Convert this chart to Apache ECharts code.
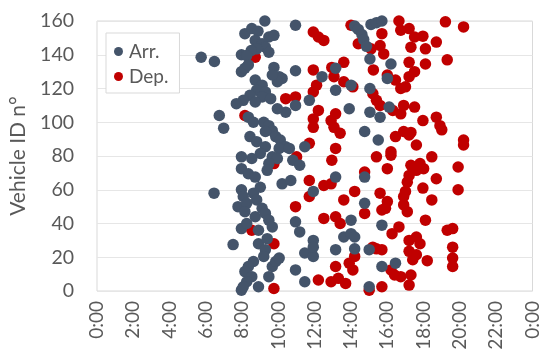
<!DOCTYPE html>
<html>
<head>
<meta charset="utf-8">
<script src="https://cdn.jsdelivr.net/npm/echarts@6/dist/echarts.min.js"></script>
<style>
html,body{margin:0;padding:0;background:#fff;}
#c{width:542px;height:361px;}
</style>
</head>
<body>
<div id="c"></div>
<script>
// Tick labels (hours)
var xTicks = [0, 2, 4, 6, 8, 10, 12, 14, 16, 18, 20, 22, 24];
var seriesNames = ['Arr.', 'Dep.'];
// [hour of day, vehicle ID]
var arrPoints = [
[9.25,160],[10.94,157.5],[8.15,152.5],[8.53,155.5],[8.87,154],[9.47,150.5],[9.75,151.5],[8.72,148.5],[9.1,146.5],[9.28,144.5],[9.47,141.5],[8.8,143.5],[8.5,142.5],[7.96,140],[8.25,139.5],[5.74,138.5],[6.47,136],
[14.2,157],[14.4,155],[14.6,152],[14.7,149],[14.85,145],[15.1,158],[15.4,159],[15.7,160],[15.04,137.5],[16.2,134.5],[16.0,126],[16.1,109],[15.04,120],[15.04,106],[15.6,103],[15.5,89.5],[14.75,94.5],[14.75,67.5],[14.75,52],[14.0,122],[13.9,108],[13.15,119],[13.15,132],[12.4,127],[10.94,130.5],[10.94,110],[10.4,106],[9.94,108],[9.75,132.5],[10.04,127],[10.2,126],[9.94,124],[9.66,128],[7.96,130],[8.15,132],[8.34,134],
[8.72,125],[9.1,122],[8.8,119],[9.28,118],[8.43,116],[9.1,115],[9.57,114],[8.06,113],[8.72,112],[7.68,111],[11.7,113],
[6.74,104],[6.98,96.5],[8.34,103],[8.62,100],[9.19,100],[9.47,98],[9.66,95],[9.28,94.5],[8.43,91.5],[8.8,88.5],[9.85,91.5],[10.1,89.5],[10.4,85.5],[10.04,84.5],[9.28,85.5],[9.0,81.5],[9.66,79.5],[9.94,78.5],[7.96,79.5],[8.53,78.5],[9.47,75.5],[9.38,71.5],[7.96,72.5],[8.34,69.5],[8.72,67.5],[9.0,61.5],[8.62,58],[8.8,54],[7.96,60],[8.06,56],[7.77,50],[8.25,52],[8.15,47],[8.72,44],[9.1,49],[9.28,46],[9.47,42],[9.66,38],[7.96,37],[8.25,40],[8.9,36],[8.9,28],[9.38,31],[9.28,24.5],[9.19,20.5],[8.62,17.5],[8.34,14.5],[8.15,11.5],[8.53,8.5],[8.25,5.5],[7.96,0.5],[8.06,2.5],[8.9,2.5],[9.47,8.5],[9.66,14.5],[9.85,17.5],[10.04,19.5],[7.5,27.5],[6.45,58],
[10.6,84.5],[10.79,77.5],[11.17,74.5],[11.45,85.5],[10.2,63.5],[10.68,65.5],[10.94,41],[11.17,35],[10.94,12.5],[11.45,5.5],[11.45,22.5],[11.92,20.5],[11.92,30],[11.92,26],[11.92,59],
[13.15,67.5],[13.15,24.5],[13.6,32],[14.0,34],[14.2,32],[14.0,42],[14.2,25],[15.0,24.5],[15.0,2.5],[15.7,14.5],[15.7,39],[16.45,16.5]
];
var depPoints = [
[16.64,160],[16.74,154.5],[17.2,155.5],[19.2,159.5],[20.2,156.5],[14.0,157.5],[15.7,152.5],[11.92,153.5],[12.2,150.5],[12.5,148.5],[17.5,150.5],[17.96,151],[18.7,147.5],[17.3,144.5],[18.1,143.5],[15.1,143.5],[15.6,145.5],[15.8,140.5],[14.4,146.5],[17.2,135.5],[18.1,134.5],[19.3,137],[13.6,135.5],[8.72,138.5],
[15.23,131],[16.0,128],[16.45,125],[16.74,120],[17.0,121],[17.2,127],[17.5,130],[11.92,131],[12.94,132.5],[13.06,127],[12.1,122],[11.92,118],[13.6,124],[14.1,121],
[10.4,114],[10.94,115],[15.2,117],[15.4,113],[15.6,110],[16.3,107],[16.74,105],[16.9,110],[17.5,109],[17.96,101],[18.7,103],[18.9,98],[19.0,95.5],[12.2,107],[11.92,102],[11.92,97],[13.15,105],[12.9,101],[13.06,97],[13.4,93.5],[16.45,91.5],[16.9,94.5],[17.2,92.5],[17.3,94],[17.6,86.5],[20.2,89.5],[20.2,86.5],[8.15,104],
[11.7,87.5],[13.15,84.5],[16.2,82.5],[15.4,79.5],[16.2,80.5],[12.94,77.5],[11.0,79.5],[9.75,75.5],[18.45,79.5],[17.3,74.5],[17.8,75.5],[17.6,71.5],[18.0,72.5],[17.2,68.5],[17.1,64.5],[18.7,66.5],[16.0,72.5],[19.9,73.5],[14.75,70.5],[11.7,65.5],[12.5,62.5],[12.9,63.5],
[17.96,61],[17.0,59],[16.9,56],[15.6,58],[14.2,59],[13.6,54],[11.7,56],[16.0,53],[15.9,49],[15.7,48],[16.9,51],[17.1,47],[18.45,54],[19.9,60],[10.94,50],[14.75,46],
[12.5,43],[13.15,44],[13.4,40],[16.64,38],[16.26,34],[18.1,42],[19.3,36],[19.6,37],[8.53,36],[9.75,28],
[17.6,32],[17.8,28],[17.2,30],[15.4,25],[15.7,24.5],[17.2,23.5],[17.6,21.5],[17.4,18.5],[18.2,18],[19.6,26],[19.6,19.5],[19.6,14.5],[14.2,20.5],[13.9,16.5],[14.1,12.5],[13.15,14.5],[12.9,5.5],[13.3,7.5],[13.7,4.5],[12.2,6.5],[16.2,12.5],[16.4,9.5],[16.74,8.5],[17.3,9.5],[17.2,3.5],[15.7,2.5],[15.0,0.5],[9.75,1.5],[15.2,26]
];

var FONT = 'Lato, "Open Sans", sans-serif';
var chart = echarts.init(document.getElementById('c'), null, {renderer: 'canvas'});
chart.setOption({
  animation: false,
  backgroundColor: '#ffffff',
  textStyle: {fontFamily: FONT},
  grid: {left: 96, right: 5, top: 21, bottom: 70, show: true, borderColor: '#D9D9D9', borderWidth: 1},
  legend: {
    data: seriesNames,
    orient: 'vertical',
    left: 106, top: 33,
    backgroundColor: '#ffffff',
    borderColor: '#D9D9D9', borderWidth: 1,
    padding: [9, 11, 7, 8],
    itemGap: 6,
    itemWidth: 9, itemHeight: 9,
    icon: 'circle',
    textStyle: {fontSize: 19, lineHeight: 19, color: '#595959', fontFamily: FONT, padding: [0, 0, 0, 1]}
  },
  xAxis: {
    type: 'value', min: 0, max: 24, interval: 2,
    axisLine: {show: false},
    axisTick: {show: false},
    splitLine: {show: false},
    axisLabel: {
      rotate: 90, fontSize: 19, color: '#595959', margin: 10, fontFamily: FONT,
      formatter: function (v) { return xTicks.indexOf(v) >= 0 ? (v % 24) + ':00' : ''; }
    }
  },
  yAxis: {
    type: 'value', min: 0, max: 160, interval: 20,
    name: 'Vehicle ID n°', nameLocation: 'middle', nameGap: 68,
    nameTextStyle: {fontSize: 21, color: '#595959', fontFamily: FONT},
    axisLine: {show: false},
    axisTick: {show: false},
    splitLine: {lineStyle: {color: '#E6E6E6', width: 1}},
    axisLabel: {fontSize: 19.5, color: '#595959', margin: 23, fontFamily: FONT}
  },
  series: [
    {name: 'Arr.', type: 'scatter', data: arrPoints, symbolSize: 11.5, z: 3,
     itemStyle: {color: '#44546A', opacity: 1}},
    {name: 'Dep.', type: 'scatter', data: depPoints, symbolSize: 11.5, z: 2,
     itemStyle: {color: '#C00000', opacity: 1}}
  ]
});
</script>
</body>
</html>
